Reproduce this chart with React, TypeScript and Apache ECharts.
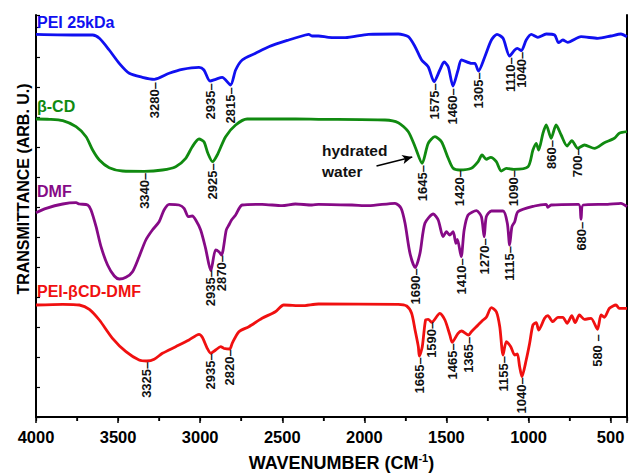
import React, { useEffect, useRef } from 'react';
import * as echarts from 'echarts';

// FTIR spectra: [wavenumber (cm-1), transmittance (arb. u.)]
const peiSpectrum: [number, number][] = [
  [4000, 38.27], [3736, 38.2], [3655, 38.2], [3614, 37.87], [3554, 36.7], [3493, 35.37], [3432, 34.37],
  [3352, 33.97], [3280, 33.77], [3189, 34.37], [3109, 34.77], [3007, 34.97], [2977, 34.7], [2940, 33.6],
  [2906, 33.77], [2866, 33.97], [2815, 33.2], [2784, 34.7], [2744, 35.7], [2663, 36.37], [2582, 37.03],
  [2461, 37.7], [2359, 38.2], [2339, 38.27], [2319, 38.1], [2279, 38.1], [2218, 37.97], [2116, 37.93],
  [1975, 38.27], [1793, 38.3], [1732, 38.03], [1691, 37.03], [1651, 35.7], [1611, 35.03], [1575, 33.53],
  [1540, 34.7], [1514, 35.5], [1489, 35.03], [1460, 33.1], [1429, 34.7], [1408, 35.7], [1348, 35.37],
  [1327, 35.37], [1305, 34.6], [1266, 36.03], [1226, 37.7], [1192, 38.27], [1155, 37.87], [1115, 36.1],
  [1084, 36.7], [1068, 36.87], [1044, 36.63], [1014, 37.7], [983, 38.27], [943, 37.97], [892, 38.3],
  [841, 38.2], [817, 37.43], [791, 37.7], [761, 37.47], [680, 38.03], [578, 37.87], [498, 38.1],
  [437, 38.3], [400, 38.03],
];

const cdSpectrum: [number, number][] = [
  [4000, 29.8], [3918, 29.77], [3837, 29.63], [3756, 29.03], [3695, 28.03], [3655, 26.7], [3614, 25.7],
  [3554, 24.93], [3473, 24.6], [3340, 24.57], [3230, 24.7], [3149, 25.03], [3088, 25.87], [3048, 27.03],
  [3007, 27.8], [2977, 27.53], [2953, 26.37], [2925, 25.53], [2896, 26.2], [2845, 28.03], [2784, 29.2],
  [2714, 29.8], [2420, 29.8], [2279, 29.77], [1874, 29.7], [1793, 29.43], [1732, 28.53], [1691, 27.03],
  [1648, 25.37], [1611, 27.37], [1570, 28.03], [1530, 27.53], [1489, 25.87], [1459, 24.87], [1420, 24.7],
  [1348, 24.87], [1307, 25.53], [1283, 26.2], [1257, 25.77], [1230, 25.97], [1196, 25.53], [1166, 24.6],
  [1135, 24.87], [1090, 24.77], [1003, 25.03], [973, 26.7], [953, 27.37], [938, 26.7], [912, 28.37],
  [892, 29.2], [862, 27.87], [832, 29.2], [801, 28.2], [765, 27.1], [736, 27.63], [700, 26.87],
  [659, 27.2], [598, 26.87], [538, 27.43], [477, 27.87], [447, 28.37], [400, 28.53],
];

const dmfSpectrum: [number, number][] = [
  [4000, 20.43], [3938, 20.87], [3837, 21.3], [3756, 21.43], [3736, 21.3], [3685, 21.2], [3665, 20.7],
  [3634, 19.03], [3604, 17.03], [3564, 15.2], [3523, 14.1], [3493, 13.8], [3452, 13.97], [3412, 14.53],
  [3372, 16.03], [3331, 17.7], [3291, 18.7], [3250, 19.53], [3220, 20.7], [3189, 21.27], [3129, 21.2],
  [3098, 20.87], [3072, 20.03], [3048, 20.1], [3027, 19.7], [2997, 18.7], [2967, 16.87], [2935, 14.63],
  [2906, 16.7], [2886, 16.53], [2870, 16.2], [2841, 18.7], [2825, 19.2], [2809, 19.7], [2784, 20.2],
  [2744, 21.2], [2623, 21.27], [2501, 21.13], [2420, 21.3], [2319, 21.2], [2279, 21.27], [2076, 21.2],
  [1975, 21.13], [1813, 21.37], [1776, 20.87], [1752, 19.37], [1722, 16.37], [1690, 14.93], [1661, 16.37],
  [1631, 19.37], [1580, 20.3], [1550, 19.7], [1520, 18.03], [1500, 18.53], [1479, 18.2], [1459, 18.53],
  [1442, 17.37], [1433, 17.77], [1410, 16.03], [1392, 18.7], [1368, 20.2], [1317, 20.63], [1287, 20.03],
  [1270, 18.03], [1257, 20.03], [1226, 20.6], [1155, 20.6], [1129, 19.37], [1115, 17.2], [1101, 19.03],
  [1084, 19.53], [1064, 20.53], [963, 21.1], [892, 21.27], [882, 20.97], [862, 21.2], [695, 21.27],
  [680, 19.77], [667, 21.2], [518, 21.27], [437, 21.37], [400, 21.03],
];

const mixSpectrum: [number, number][] = [
  [4000, 11.2], [3837, 11.27], [3736, 11.2], [3675, 10.77], [3614, 9.7], [3534, 7.87], [3452, 6.53],
  [3372, 5.7], [3325, 5.6], [3280, 5.77], [3230, 6.37], [3149, 7.03], [3068, 7.7], [3007, 8.27],
  [2987, 7.97], [2957, 6.87], [2935, 6.37], [2906, 6.7], [2875, 7.03], [2855, 6.87], [2820, 6.8],
  [2805, 7.37], [2764, 8.53], [2704, 9.03], [2623, 9.87], [2542, 10.53], [2491, 11.2], [2380, 11.13],
  [2279, 11.3], [1793, 11.27], [1742, 11.1], [1712, 10.37], [1691, 8.7], [1671, 7.03], [1665, 6.1],
  [1647, 7.03], [1627, 9.7], [1611, 9.77], [1590, 9.47], [1540, 10.37], [1509, 9.7], [1479, 8.2],
  [1465, 7.47], [1429, 8.37], [1408, 8.6], [1365, 8.2], [1348, 8.53], [1307, 9.2], [1277, 9.7],
  [1257, 9.97], [1226, 10.93], [1196, 10.53], [1175, 9.03], [1155, 6.2], [1135, 7.53], [1108, 7.03],
  [1084, 6.2], [1068, 6.3], [1054, 5.03], [1040, 4.03], [1014, 5.7], [993, 7.37], [973, 9.2],
  [953, 9.43], [938, 8.7], [902, 9.87], [882, 10.13], [852, 9.53], [821, 9.97], [791, 9.97],
  [765, 9.37], [736, 10.13], [716, 9.43], [690, 10.2], [659, 9.77], [619, 9.87], [580, 8.77],
  [558, 10.2], [538, 9.97], [507, 10.87], [467, 11.2], [447, 10.87], [400, 10.87],
];

// Peak labels: [wavenumber, transmittance at the top of the label, text]
const peiPeaks: [number, number, string][] = [
  [3280, 33.5, '3280–'], [2935, 33.37, '2935–'], [2815, 32.97, '2815–'], [1575, 33.37, '1575–'],
  [1460, 32.87, '1460–'], [1305, 34.47, '1305–'], [1110, 35.97, '1110–'], [1040, 36.53, '1040–'],
];
const cdPeaks: [number, number, string][] = [
  [3340, 24.43, '3340–'], [2925, 25.37, '2925–'], [1645, 25.2, '1645–'], [1420, 24.7, '1420–'],
  [1090, 24.7, '1090–'], [860, 27.7, '860–'], [700, 26.87, '700–'],
];
const dmfPeaks: [number, number, string][] = [
  [2935, 14.7, '2935–'], [2870, 16.2, '2870–'], [1690, 14.87, '1690–'], [1410, 15.87, '1410–'],
  [1270, 17.87, '1270–'], [1115, 17.1, '1115–'], [680, 19.53, '680–'],
];
const mixPeaks: [number, number, string][] = [
  [3325, 5.53, '3325–'], [2935, 6.37, '2935–'], [2820, 6.77, '2820–'], [1665, 5.97, '1665–'],
  [1590, 9.53, '1590–'], [1465, 7.37, '1465–'], [1365, 8.03, '1365–'], [1155, 6.1, '1155–'],
  [1040, 3.97, '1040–'], [580, 8.27, '580 –'],
];

const seriesNames = ['PEI 25kDa', 'β-CD', 'DMF', 'PEI-βCD-DMF'];
const seriesColors = ['#1010F0', '#108A10', '#860A86', '#F01010'];

// "hydrated water" arrow, from text to the 1645 band
const arrowStart: [number, number] = [1926, 25.1];
const arrowEnd: [number, number] = [1708, 26.0];

const FONT = '"Liberation Sans", Arial, Helvetica, sans-serif';

export default function App() {
  const ref = useRef<HTMLDivElement>(null);

  useEffect(() => {
    if (!ref.current) return;
    const chart = echarts.init(ref.current, null, { renderer: 'svg' });

    const allPeaks = [...peiPeaks, ...cdPeaks, ...dmfPeaks, ...mixPeaks];
    const spectra = [peiSpectrum, cdSpectrum, dmfSpectrum, mixSpectrum];

    const lineSeries: any[] = spectra.map((d, i) => ({
      type: 'line',
      name: seriesNames[i],
      data: d,
      showSymbol: false,
      smooth: 0.25,
      lineStyle: { color: seriesColors[i], width: 2.8 },
      itemStyle: { color: seriesColors[i] },
      z: 3,
      ...(i === 1
        ? {
            markLine: {
              silent: true,
              symbol: ['none', 'arrow'],
              symbolSize: [7, 10],
              label: { show: false },
              lineStyle: { color: '#000', width: 1.6, type: 'solid' },
              data: [[{ coord: arrowStart }, { coord: arrowEnd }]],
            },
          }
        : {}),
    }));

    const annotationSeries = {
      type: 'custom',
      name: 'peaks',
      data: allPeaks.map((p) => [p[0], p[1]]),
      z: 4,
      renderItem: (params: any, api: any) => {
        const pt = api.coord([api.value(0), api.value(1)]);
        return {
          type: 'text',
          x: pt[0],
          y: pt[1],
          rotation: Math.PI / 2,
          style: {
            text: allPeaks[params.dataIndex][2],
            font: `bold 13px ${FONT}`,
            fill: '#111',
            align: 'right',
            verticalAlign: 'middle',
          },
        };
      },
    };

    const labelTops = [14, 98, 183, 283];

    const option: any = {
      animation: false,
      backgroundColor: '#fff',
      grid: { left: 36, right: 2, top: 15, bottom: 57, containLabel: false, outerBoundsMode: 'none' },
      xAxis: [
        {
          type: 'value',
          position: 'bottom',
          min: 400,
          max: 4000,
          splitNumber: 7,
          inverse: true,
          name: '{a|WAVENUMBER (CM}{s|-1}{a|)}',
          nameLocation: 'middle',
          nameGap: 35,
          nameTextStyle: {
            padding: [0, 0, 0, 20],
            rich: {
              a: { fontFamily: FONT, fontWeight: 'bold', fontSize: 18, color: '#000', lineHeight: 22 },
              s: { fontFamily: FONT, fontWeight: 'bold', fontSize: 11, color: '#000', verticalAlign: 'top', lineHeight: 11 },
            },
          },
          axisLine: { show: true, lineStyle: { color: '#000', width: 2 } },
          axisTick: { show: true, inside: false, length: 6, lineStyle: { color: '#000', width: 1.5 } },
          minorTick: { show: true, splitNumber: 2, length: 4, lineStyle: { color: '#000', width: 1.5 } },
          axisLabel: {
            show: true,
            margin: 11,
            color: '#000',
            fontFamily: FONT,
            fontWeight: 'bold',
            fontSize: 16.5,
            formatter: (v: number) => (v % 500 === 0 ? String(v) : ''),
          },
          splitLine: { show: false },
        },
        {
          type: 'value',
          position: 'top',
          min: 400,
          max: 4000,
          splitNumber: 7,
          inverse: true,
          axisLine: { show: true, lineStyle: { color: '#000', width: 2 } },
          axisTick: { show: true, inside: true, length: 4, lineStyle: { color: '#000', width: 1.2 } },
          minorTick: { show: true, splitNumber: 2, length: 4, lineStyle: { color: '#000', width: 1.2 } },
          axisLabel: { show: false },
          splitLine: { show: false },
        },
      ],
      yAxis: [
        {
          type: 'value',
          position: 'left',
          min: 0,
          max: 40.2,
          interval: 3,
          axisLine: { show: true, lineStyle: { color: '#000', width: 2 } },
          axisTick: { show: true, inside: true, length: 4, lineStyle: { color: '#000', width: 1.2 } },
          axisLabel: { show: false },
          splitLine: { show: false },
        },
        {
          type: 'value',
          position: 'right',
          min: 0,
          max: 40.2,
          interval: 3,
          axisLine: { show: true, lineStyle: { color: '#000', width: 2 } },
          axisTick: { show: false },
          axisLabel: { show: false },
          splitLine: { show: false },
        },
      ],
      graphic: [
        {
          type: 'text',
          x: 23,
          y: 189,
          rotation: Math.PI / 2,
          z: 10,
          style: {
            text: 'TRANSMITTANCE (ARB. U.)',
            font: `bold 16px ${FONT}`,
            fill: '#000',
            align: 'center',
            verticalAlign: 'middle',
          },
        },
        ...seriesNames.map((n, i) => ({
          type: 'text',
          left: 37,
          top: labelTops[i],
          z: 10,
          style: { text: n, font: `bold 16px ${FONT}`, fill: seriesColors[i] },
        })),
        {
          type: 'text',
          left: 322,
          top: 140,
          z: 10,
          style: { text: 'hydrated\nwater', font: `bold 15.5px ${FONT}`, fill: '#111', lineHeight: 21 },
        },
      ],
      series: [...lineSeries, annotationSeries],
    };

    chart.setOption(option);
    return () => chart.dispose();
  }, []);

  return <div ref={ref} style={{ position: 'fixed', left: 0, top: 0, width: 629, height: 474 }} />;
}
